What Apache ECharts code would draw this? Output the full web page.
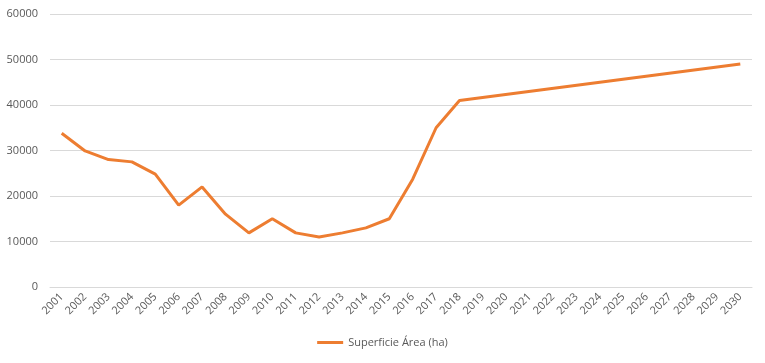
<!DOCTYPE html>
<html><head><meta charset="utf-8">
<script src="https://cdn.jsdelivr.net/npm/echarts@6/dist/echarts.min.js"></script>
<style>html,body{margin:0;padding:0;background:#fff}#c{width:765px;height:363px}</style>
</head><body><div id="c"></div>
<script>
const years = ['2001','2002','2003','2004','2005','2006','2007','2008','2009','2010','2011','2012','2013','2014','2015','2016','2017','2018','2019','2020','2021','2022','2023','2024','2025','2026','2027','2028','2029','2030'];
const superficie = [33800,29900,28000,27500,24800,18000,22000,16000,11900,15000,11900,11000,11900,13000,15000,23700,35000,41000,null,null,null,null,null,null,null,null,null,null,null,49000];
const seriesName = 'Superficie Área (ha)';
const chart = echarts.init(document.getElementById('c'), null, {renderer:'canvas'});
const font = 'Open Sans';
chart.setOption({
  animation:false,
  grid:{left:50,right:13,top:14,bottom:76,containLabel:false},
  legend:{bottom:10,left:'center',itemWidth:26,itemHeight:3,icon:'rect',itemGap:10,
    textStyle:{fontFamily:font,fontSize:11,color:'#595959'},data:[seriesName]},
  xAxis:{type:'category',data:years,boundaryGap:true,
    axisLine:{show:true,lineStyle:{color:'#d9d9d9'}},axisTick:{show:false},
    axisLabel:{rotate:45,interval:0,fontFamily:font,fontSize:11,color:'#595959',margin:8}},
  yAxis:{type:'value',min:0,max:60000,interval:10000,
    axisLine:{show:false},axisTick:{show:false},
    splitLine:{lineStyle:{color:'#d9d9d9',width:1}},
    axisLabel:{fontFamily:font,fontSize:11,color:'#595959',margin:12,formatter:v=>String(v)}},
  series:[{name:seriesName,type:'line',data:superficie,connectNulls:true,showSymbol:false,symbol:'none',
    lineStyle:{color:'#ED7D31',width:3},itemStyle:{color:'#ED7D31'}}]
});
</script></body></html>
